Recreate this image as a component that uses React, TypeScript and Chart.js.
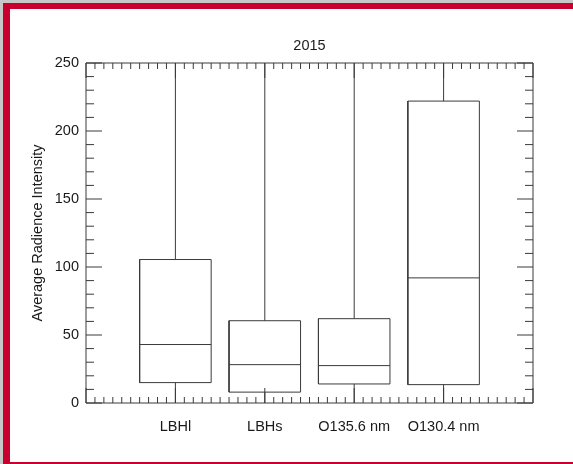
import React, { useEffect, useRef } from 'react';
import { Chart, registerables } from 'chart.js';

Chart.register(...registerables);

// ---- data ----
const TITLE = '2015';
const Y_TITLE = 'Average Radience Intensity';
const CATEGORIES = ['LBHl', 'LBHs', 'O135.6 nm', 'O130.4 nm'];
const POSITIONS = [1, 2, 3, 4];
const WHISKER_LOW = [0, 0, 0, 0];
const Q1 = [15, 8, 14, 13.5];
const MEDIAN = [43, 28.2, 27.5, 92];
const Q3 = [105.5, 60.5, 62, 222];
const WHISKER_HIGH = [280, 280, 280, 280];
const Y_TICKS = [0, 50, 100, 150, 200, 250];

// ---- style ----
const FONT = "'Liberation Sans', Arial, Helvetica, sans-serif";
const FONT_SIZE = 14.5;
const LINE_COLOR = '#3a3a3a';
const TEXT_COLOR = '#1a1a1a';
const RED = '#c8002f';
const BOX_HALF = 0.4;
const X_MIN = 0;
const X_MAX = 5;

const idlAxes = {
  id: 'idlAxes',
  afterDatasetsDraw(chart: any) {
    const { ctx, chartArea } = chart;
    const { left, right, top, bottom } = chartArea;
    const x = chart.scales.x;
    const y = chart.scales.y;
    ctx.save();
    ctx.strokeStyle = LINE_COLOR;
    ctx.lineWidth = 1;
    ctx.beginPath();
    ctx.rect(left, top, right - left, bottom - top);
    const yMin = Y_TICKS[0];
    const yMax = Y_TICKS[Y_TICKS.length - 1];
    const yMajor = Y_TICKS[1] - Y_TICKS[0];
    const yMinor = yMajor / 5;
    const nY = Math.round((yMax - yMin) / yMinor);
    for (let i = 0; i <= nY; i++) {
      const v = yMin + i * yMinor;
      const py = y.getPixelForValue(v);
      const len = i % 5 === 0 ? 16 : 8;
      ctx.moveTo(left, py);
      ctx.lineTo(left + len, py);
      ctx.moveTo(right, py);
      ctx.lineTo(right - len, py);
    }
    const nX = (X_MAX - X_MIN) * 10;
    for (let i = 0; i <= nX; i++) {
      const v = X_MIN + i / 10;
      const px = x.getPixelForValue(v);
      const len = i % 10 === 0 ? 15 : 6;
      ctx.moveTo(px, bottom);
      ctx.lineTo(px, bottom - len);
      ctx.moveTo(px, top);
      ctx.lineTo(px, top + len);
    }
    ctx.stroke();
    ctx.restore();
  },
};

function buildDatasets() {
  const ds: any[] = [];
  const base = {
    showLine: true,
    pointRadius: 0,
    pointHoverRadius: 0,
    borderColor: LINE_COLOR,
    borderWidth: 1,
    fill: false,
    tension: 0,
  };
  POSITIONS.forEach((c, i) => {
    const l = c - BOX_HALF;
    const r = c + BOX_HALF;
    ds.push({
      ...base,
      label: CATEGORIES[i] + ' box',
      data: [
        { x: l, y: Q1[i] },
        { x: r, y: Q1[i] },
        { x: r, y: Q3[i] },
        { x: l, y: Q3[i] },
        { x: l, y: Q1[i] },
      ],
    });
    ds.push({
      ...base,
      label: CATEGORIES[i] + ' median',
      data: [
        { x: l, y: MEDIAN[i] },
        { x: r, y: MEDIAN[i] },
      ],
    });
    ds.push({
      ...base,
      label: CATEGORIES[i] + ' upper whisker',
      data: [
        { x: c, y: Q3[i] },
        { x: c, y: WHISKER_HIGH[i] },
      ],
    });
    ds.push({
      ...base,
      label: CATEGORIES[i] + ' lower whisker',
      data: [
        { x: c, y: WHISKER_LOW[i] },
        { x: c, y: Q1[i] },
      ],
    });
  });
  return ds;
}

export default function App() {
  const ref = useRef<HTMLCanvasElement | null>(null);

  useEffect(() => {
    if (!ref.current) return;
    Chart.defaults.font.family = FONT;
    Chart.defaults.font.size = FONT_SIZE;
    Chart.defaults.color = TEXT_COLOR;
    const chart = new Chart(ref.current, {
      type: 'scatter',
      data: { datasets: buildDatasets() },
      plugins: [idlAxes],
      options: {
        responsive: false,
        animation: false,
        events: [],
        layout: { padding: { left: 0, right: 40, top: 0, bottom: 0 } },
        plugins: {
          legend: { display: false },
          tooltip: { enabled: false },
          title: {
            display: true,
            text: TITLE,
            fullSize: false,
            color: TEXT_COLOR,
            font: { size: FONT_SIZE, weight: 'normal', family: FONT },
            padding: { top: 37, bottom: 8.6 },
          },
        },
        scales: {
          x: {
            type: 'linear',
            min: X_MIN,
            max: X_MAX,
            grid: { display: false, drawTicks: false },
            border: { display: false },
            afterBuildTicks: (scale: any) => {
              scale.ticks = POSITIONS.map((v) => ({ value: v }));
            },
            afterFit: (scale: any) => {
              scale.height = 61;
            },
            ticks: {
              padding: 15,
              maxRotation: 0,
              autoSkip: false,
              color: TEXT_COLOR,
              font: { size: FONT_SIZE },
              callback: (value: any) => {
                const idx = POSITIONS.indexOf(Number(value));
                return idx >= 0 ? CATEGORIES[idx] : '';
              },
            },
          },
          y: {
            type: 'linear',
            min: Y_TICKS[0],
            max: Y_TICKS[Y_TICKS.length - 1],
            grid: { display: false, drawTicks: false },
            border: { display: false },
            afterBuildTicks: (scale: any) => {
              scale.ticks = Y_TICKS.map((v) => ({ value: v }));
            },
            afterFit: (scale: any) => {
              scale.width = 86;
            },
            ticks: {
              padding: 7,
              color: TEXT_COLOR,
              font: { size: FONT_SIZE },
            },
            title: {
              display: true,
              text: Y_TITLE,
              color: TEXT_COLOR,
              font: { size: FONT_SIZE },
              padding: { top: 29, bottom: 0 },
            },
          },
        },
      } as any,
    });
    return () => chart.destroy();
  }, []);

  return (
    <div
      style={{
        position: 'fixed',
        left: 0,
        top: 0,
        width: 573,
        height: 464,
        background: '#c8c8c8',
        overflow: 'hidden',
      }}
    >
      <div
        style={{
          position: 'absolute',
          left: 3,
          top: 3,
          width: 700,
          height: 453,
          background: '#ffffff',
          borderLeft: `7px solid ${RED}`,
          borderTop: `6px solid ${RED}`,
          borderBottom: `7px solid ${RED}`,
        }}
      />
      <canvas
        ref={ref}
        width={573}
        height={464}
        style={{ position: 'absolute', left: 0, top: 0, width: 573, height: 464 }}
      />
    </div>
  );
}
